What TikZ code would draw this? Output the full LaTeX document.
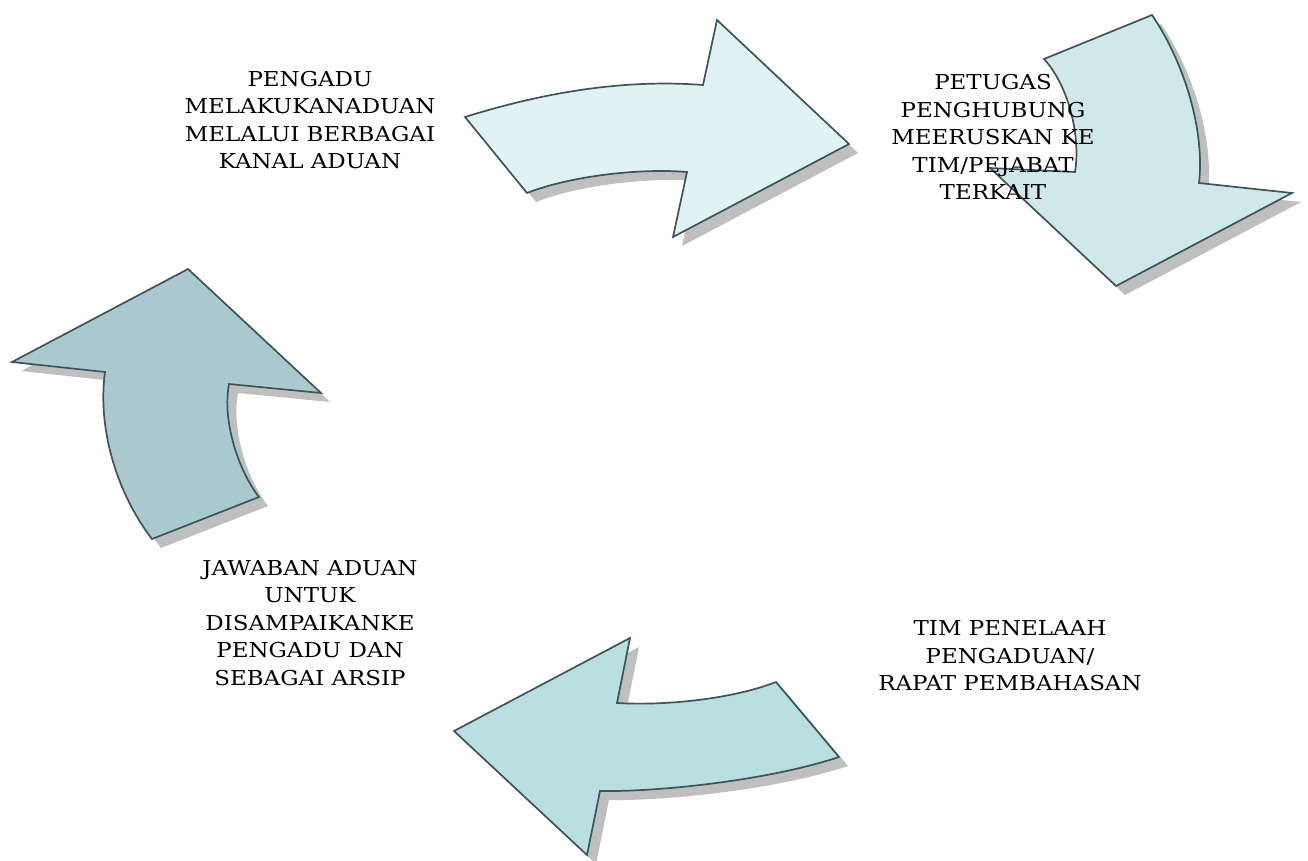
\documentclass[tikz,border=0pt]{standalone}
\usepackage{fontspec}
\setmainfont{DejaVu Serif}[FakeStretch=1.12]
\begin{document}
\begin{tikzpicture}[x=1pt,y=-1pt,
  shadowfill/.style={fill=shadowgray,draw=none},
  arrowbody/.style={draw=edgecol,line width=1.7pt,line join=miter},
  lbl/.style={align=center,inner sep=0pt,font=\fontsize{20.5}{27.5}\selectfont,text=black}]
\definecolor{shadowgray}{HTML}{BFBFBF}
\definecolor{edgecol}{HTML}{3E5459}
\definecolor{fillA}{HTML}{E0F2F3}
\definecolor{fillB}{HTML}{CFE9EB}
\definecolor{fillC}{HTML}{B9DFE1}
\definecolor{fillD}{HTML}{AAC9CE}
\useasboundingbox (0,0) rectangle (1308,860);
\def\pathA{(465,117) .. controls (545,92) and (625,79) .. (703,85) -- (717,20) -- (849,144) -- (673,237) -- (687,172) .. controls (640,168) and (570,176) .. (527,193) -- cycle}
\def\pathB{(1044,59) -- (1152,15) .. controls (1184,62) and (1205,130) .. (1199,183) -- (1292,193) -- (1116,286) -- (990,168) -- (1075,172) .. controls (1081,135) and (1068,85) .. (1044,59)}
\def\pathC{(776,682) -- (839,757) .. controls (770,780) and (660,792) .. (600,791) -- (587,855) -- (454,731) -- (630,638) -- (617,703) .. controls (670,706) and (735,698) .. (776,682)}
\def\pathD{(152,539) -- (259,497) .. controls (238,470) and (222,420) .. (229,384) -- (321,393) -- (188,269) -- (12,362) -- (105,372) .. controls (97,430) and (118,495) .. (152,539)}
% shadows
\fill[shadowfill,shift={(9,9)}] \pathA;
\fill[shadowfill,shift={(9,9)}] \pathB;
\fill[shadowfill,shift={(9,9)}] \pathC;
\fill[shadowfill,shift={(9,9)}] \pathD;
% arrows
\path[arrowbody,fill=fillA] \pathA -- cycle;
\path[arrowbody,fill=fillB] \pathB -- cycle;
\path[arrowbody,fill=fillC] \pathC -- cycle;
\path[arrowbody,fill=fillD] \pathD -- cycle;
% labels
\node[lbl] (t1) at (310,120) {PENGADU\\MELAKUKANADUAN\\MELALUI BERBAGAI\\KANAL ADUAN};
\node[lbl] (t2) at (993,137) {PETUGAS\\PENGHUBUNG\\MEERUSKAN KE\\TIM/PEJABAT\\TERKAIT};
\node[lbl] (t3) at (1010,656) {TIM PENELAAH\\PENGADUAN/\\RAPAT PEMBAHASAN};
\node[lbl] (t4) at (310,623) {JAWABAN ADUAN\\UNTUK\\DISAMPAIKANKE\\PENGADU DAN\\SEBAGAI ARSIP};
\end{tikzpicture}
\end{document}
